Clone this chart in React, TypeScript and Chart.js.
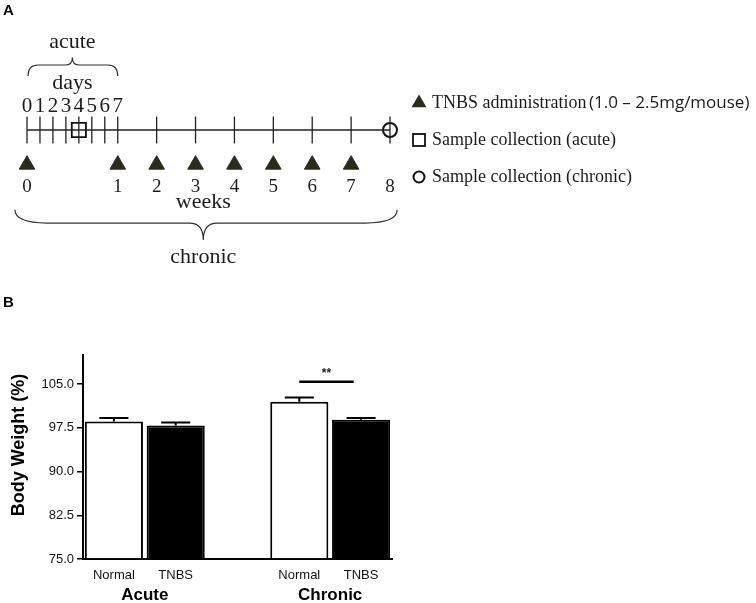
import React, { useEffect, useRef } from "react";
import { Chart, registerables } from "chart.js";

Chart.register(...registerables);

// ---------------- Panel A: treatment protocol timeline ----------------
const dayNumbers = [0, 1, 2, 3, 4, 5, 6, 7];
const weekNumbers = [0, 1, 2, 3, 4, 5, 6, 7, 8];
const tnbsWeeks = [0, 1, 2, 3, 4, 5, 6, 7];
const acuteSampleDays = [4];
const chronicSampleWeeks = [8];
const legendLabels = ["TNBS administration", "Sample collection (acute)", "Sample collection (chronic)"];
const doseNote = "(1.0 \u2013 2.5mg/mouse)";
const daysLabel = "days";
const acuteLabel = "acute";
const weeksLabel = "weeks";
const chronicLabel = "chronic";

// ---------------- Panel B: body weight ----------------
const groupNames = ["Acute", "Chronic"];
const treatmentNames = ["Normal", "TNBS"];
const normalMeans = [98.6, 102.0];
const tnbsMeans = [97.9, 98.9];
const normalSems = [0.6, 0.7];
const tnbsSems = [0.5, 0.3];
const yTickMin = 75;
const yTickMax = 110;
const yTickStep = 7.5;
const sigMark = "**";
const sigLevel = 105.4;
const yTitle = "Body Weight (%)";

// axis-unit mapping for the timeline: first week expanded into days
const dayPos = (d: number) => d;
const weekPos = (w: number) => (w === 0 ? 0 : 7 + (w - 1) * 3);

const SERIF = '"Liberation Serif", "Times New Roman", serif';
const SANS = '"Liberation Sans", Arial, sans-serif';
const INK = "#1c1c1c";
const TRI = "#2b2b1d";

function brace(
  ctx: CanvasRenderingContext2D,
  x1: number, x2: number, xm: number,
  yEnd: number, yMid: number, yTip: number,
  rEnd: number, rTip: number
) {
  ctx.beginPath();
  ctx.moveTo(x1, yEnd);
  ctx.quadraticCurveTo(x1, yMid, x1 + rEnd, yMid);
  ctx.lineTo(xm - rTip, yMid);
  ctx.quadraticCurveTo(xm, yMid, xm, yTip);
  ctx.quadraticCurveTo(xm, yMid, xm + rTip, yMid);
  ctx.lineTo(x2 - rEnd, yMid);
  ctx.quadraticCurveTo(x2, yMid, x2, yEnd);
  ctx.stroke();
}

function buildTimeline(canvas: HTMLCanvasElement) {
  const tickPositions = Array.from(
    new Set([...dayNumbers.map(dayPos), ...weekNumbers.map(weekPos)])
  );
  const maxPos = weekPos(weekNumbers[weekNumbers.length - 1]);

  const textPlugin = {
    id: "timelineText",
    afterDatasetsDraw(chart: any) {
      const ctx: CanvasRenderingContext2D = chart.ctx;
      const xs = chart.scales.x;
      const ys = chart.scales.y;
      const X = (v: number) => xs.getPixelForValue(v);
      const Y = (v: number) => ys.getPixelForValue(v);
      ctx.save();
      ctx.fillStyle = INK;
      ctx.strokeStyle = "#333";
      ctx.textAlign = "center";
      ctx.textBaseline = "middle";
      ctx.font = `21px ${SERIF}`;
      dayNumbers.forEach((d) => ctx.fillText(String(d), X(dayPos(d)), Y(0.72)));
      ctx.font = `19px ${SERIF}`;
      weekNumbers.forEach((w) => ctx.fillText(String(w), X(weekPos(w)), Y(-1.73)));
      ctx.font = `22px ${SERIF}`;
      ctx.fillText(daysLabel, X(3.5), Y(1.42));
      ctx.fillText(acuteLabel, X(3.5), Y(2.65));
      ctx.fillText(weeksLabel, X(13.6), Y(-2.2));
      ctx.fillText(chronicLabel, X(13.6), Y(-3.86));
      ctx.lineWidth = 1.2;
      brace(ctx, X(0.08), X(7.0), X(3.5), Y(1.64), Y(1.97), Y(2.2), 10, 7);
      brace(ctx, X(-0.93), X(28.55), X(13.6), Y(-2.42), Y(-2.82), Y(-3.33), 32, 14);

      // legend
      const lx = 419;
      const rows = [103, 140, 177];
      ctx.fillStyle = TRI;
      ctx.beginPath();
      const r = 8.6;
      ctx.moveTo(lx, rows[0] - r);
      ctx.lineTo(lx + r * 0.866, rows[0] + r / 2);
      ctx.lineTo(lx - r * 0.866, rows[0] + r / 2);
      ctx.closePath();
      ctx.fill();
      ctx.strokeStyle = "#111";
      ctx.lineWidth = 1.8;
      ctx.strokeRect(lx - 6, rows[1] - 6, 12, 12);
      ctx.lineWidth = 2;
      ctx.beginPath();
      ctx.arc(lx, rows[2], 5.5, 0, Math.PI * 2);
      ctx.stroke();
      ctx.fillStyle = INK;
      ctx.textAlign = "left";
      ctx.font = `18px ${SERIF}`;
      legendLabels.forEach((t, i) => ctx.fillText(t, 432, rows[i]));
      ctx.font = `17px "Open Sans", ${SANS}`;
      ctx.fillText(doseNote, 589, rows[0]);
      ctx.restore();
    },
  };

  return new Chart(canvas, {
    type: "scatter",
    data: {
      datasets: [
        {
          label: "timeline",
          data: [{ x: 0, y: 0 }, { x: maxPos, y: 0 }],
          showLine: true,
          borderColor: "#222",
          borderWidth: 1.3,
          pointRadius: 0,
          clip: false,
        },
        {
          label: "ticks",
          data: tickPositions.map((p) => ({ x: p, y: 0 })),
          pointStyle: "line",
          rotation: 90,
          pointRadius: 13.5,
          borderColor: "#222",
          borderWidth: 1.3,
          clip: false,
        },
        {
          label: "TNBS administration",
          data: tnbsWeeks.map((w) => ({ x: weekPos(w), y: -1.05 })),
          pointStyle: "triangle",
          pointRadius: 9,
          backgroundColor: TRI,
          borderColor: TRI,
          borderWidth: 1,
          clip: false,
        },
        {
          label: "Sample collection (acute)",
          data: acuteSampleDays.map((d) => ({ x: dayPos(d), y: 0 })),
          pointStyle: "rect",
          pointRadius: 10,
          backgroundColor: "rgba(0,0,0,0)",
          borderColor: "#111",
          borderWidth: 1.8,
          clip: false,
        },
        {
          label: "Sample collection (chronic)",
          data: chronicSampleWeeks.map((w) => ({ x: weekPos(w), y: 0 })),
          pointStyle: "circle",
          pointRadius: 7,
          backgroundColor: "rgba(0,0,0,0)",
          borderColor: "#111",
          borderWidth: 2,
          clip: false,
        },
      ],
    },
    options: {
      responsive: false,
      animation: false,
      events: [],
      layout: { padding: { left: 27, right: 366, top: 64, bottom: 94 } },
      scales: {
        x: { type: "linear", min: 0, max: maxPos, display: false },
        y: { type: "linear", min: -2, max: 2, display: false },
      },
      plugins: { legend: { display: false }, tooltip: { enabled: false } },
    },
    plugins: [textPlugin],
  } as any);
}

function buildBars(canvas: HTMLCanvasElement) {
  const labels: string[] = [];
  const values: (number | null)[] = [];
  const errs: (number | null)[] = [];
  const fills: string[] = [];
  const groupIdx: number[][] = [];
  groupNames.forEach((_, gi) => {
    if (gi > 0) {
      labels.push("");
      values.push(null);
      errs.push(null);
      fills.push("rgba(0,0,0,0)");
    }
    const idx: number[] = [];
    idx.push(labels.length);
    labels.push(treatmentNames[0]);
    values.push(normalMeans[gi]);
    errs.push(normalSems[gi]);
    fills.push("#ffffff");
    idx.push(labels.length);
    labels.push(treatmentNames[1]);
    values.push(tnbsMeans[gi]);
    errs.push(tnbsSems[gi]);
    fills.push("#000000");
    groupIdx.push(idx);
  });

  const overlay = {
    id: "errorBars",
    afterDatasetsDraw(chart: any) {
      const ctx: CanvasRenderingContext2D = chart.ctx;
      const meta = chart.getDatasetMeta(0);
      const ys = chart.scales.y;
      ctx.save();
      ctx.strokeStyle = "#000";
      ctx.lineWidth = 2;
      meta.data.forEach((bar: any, i: number) => {
        const v = values[i];
        const e = errs[i];
        if (v == null || e == null) return;
        const { x, width } = bar.getProps(["x", "width"], true);
        const yTop = ys.getPixelForValue(v);
        const yErr = ys.getPixelForValue(v + e);
        const half = width / 4;
        ctx.beginPath();
        ctx.moveTo(x, yTop);
        ctx.lineTo(x, yErr);
        ctx.moveTo(x - half, yErr);
        ctx.lineTo(x + half, yErr);
        ctx.stroke();
      });
      // significance bar (chronic Normal vs TNBS)
      const chronic = groupIdx[1];
      const xa = meta.data[chronic[0]].x;
      const xb = meta.data[chronic[1]].x;
      const ySig = ys.getPixelForValue(sigLevel);
      ctx.lineWidth = 2.5;
      ctx.beginPath();
      ctx.moveTo(xa, ySig);
      ctx.lineTo(xa + (xb - xa) * 0.88, ySig);
      ctx.stroke();
      ctx.fillStyle = "#222";
      ctx.textAlign = "center";
      ctx.textBaseline = "middle";
      ctx.font = `bold 12px ${SANS}`;
      ctx.fillText(sigMark, xa + (xb - xa) * 0.44, ySig - 8);
      // group labels
      ctx.fillStyle = "#000";
      ctx.font = `bold 17px ${SANS}`;
      groupIdx.forEach((idx, gi) => {
        const cx = (meta.data[idx[0]].x + meta.data[idx[1]].x) / 2;
        ctx.fillText(groupNames[gi], cx, chart.chartArea.bottom + 36);
      });
      // y-axis title
      ctx.save();
      ctx.font = `bold 18px ${SANS}`;
      ctx.translate(19, (chart.chartArea.top + chart.chartArea.bottom) / 2 - 12);
      ctx.rotate(-Math.PI / 2);
      ctx.fillText(yTitle, 0, 0);
      ctx.restore();
      ctx.restore();
    },
  };

  return new Chart(canvas, {
    type: "bar",
    data: {
      labels,
      datasets: [
        {
          label: "Body weight",
          data: values,
          base: yTickMin,
          backgroundColor: fills,
          borderColor: "#000",
          borderWidth: 2,
          barPercentage: 0.94,
          categoryPercentage: 1,
        },
      ],
    },
    options: {
      responsive: false,
      animation: false,
      events: [],
      layout: { padding: { left: 0, right: 364, top: 65, bottom: 0 } },
      scales: {
        x: {
          grid: { display: false, drawTicks: false },
          border: { display: true, color: "#000", width: 2 },
          ticks: { color: "#111", font: { family: SANS, size: 13 }, padding: 9, autoSkip: false, maxRotation: 0 },
          afterFit: (s: any) => { s.height = 44; },
        },
        y: {
          min: yTickMin,
          max: yTickMax,
          grid: { display: true, drawOnChartArea: false, drawTicks: true, tickLength: 6, color: "#000", lineWidth: 1.5 },
          border: { display: true, color: "#000", width: 2 },
          ticks: {
            stepSize: yTickStep,
            includeBounds: false,
            padding: 3,
            color: "#111",
            font: { family: SANS, size: 13 },
            callback: (v: any) => Number(v).toFixed(1),
          },
          afterFit: (s: any) => { s.width = 83; },
        },
      },
      plugins: { legend: { display: false }, tooltip: { enabled: false } },
    },
    plugins: [overlay],
  } as any);
}

export default function App() {
  const refA = useRef<HTMLCanvasElement>(null);
  const refB = useRef<HTMLCanvasElement>(null);
  useEffect(() => {
    const a = buildTimeline(refA.current!);
    const b = buildBars(refB.current!);
    return () => {
      a.destroy();
      b.destroy();
    };
  }, []);
  const panelLabel: React.CSSProperties = {
    position: "absolute",
    left: 3,
    font: `bold 15px ${SANS}`,
    lineHeight: "15px",
    color: "#000",
  };
  return (
    <div style={{ position: "fixed", left: 0, top: 0, width: 756, height: 603, background: "#fff", overflow: "hidden" }}>
      <canvas ref={refA} width={756} height={290} style={{ position: "absolute", left: 0, top: 0, width: 756, height: 290 }} />
      <canvas ref={refB} width={756} height={313} style={{ position: "absolute", left: 0, top: 290, width: 756, height: 313 }} />
      <div style={{ ...panelLabel, top: 2 }}>A</div>
      <div style={{ ...panelLabel, top: 294 }}>B</div>
    </div>
  );
}
